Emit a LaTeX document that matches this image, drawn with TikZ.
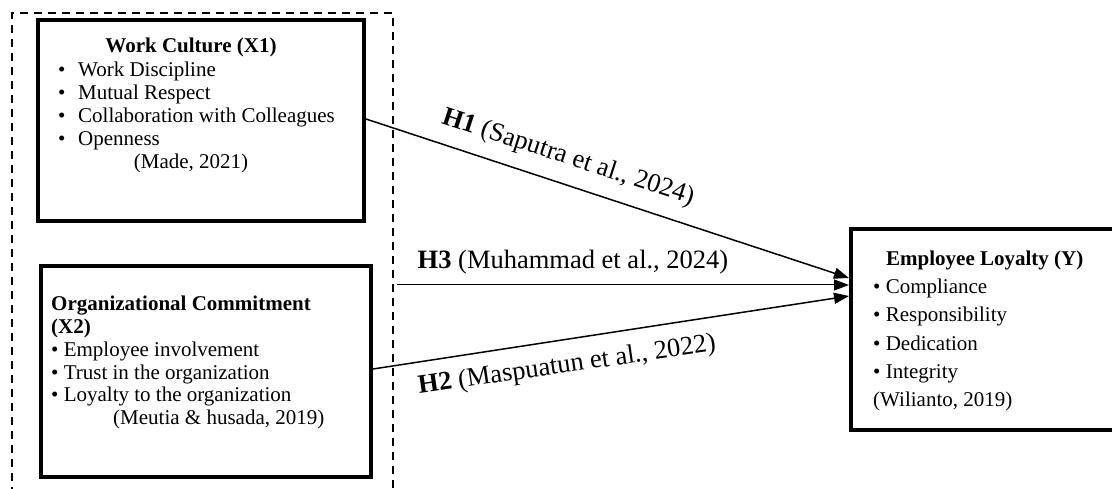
\documentclass[tikz,border=0pt]{standalone}
\usepackage{fontspec}
\setmainfont{Liberation Serif}
\usetikzlibrary{arrows.meta}
\tikzset{
  box/.style={draw, line width=4pt, inner sep=0pt},
  txt/.style={anchor=base west, inner sep=0pt, font=\fontsize{21}{23}\selectfont},
  ctxt/.style={anchor=base, inner sep=0pt, font=\fontsize{21}{23}\selectfont},
  lbl/.style={inner sep=0pt, font=\fontsize{26.5}{30}\selectfont},
  arr/.style={line width=1.5pt, -{Triangle[length=15pt,width=11pt]}},
  dashbox/.style={line width=1.4pt, dash pattern=on 8pt off 6pt}
}
\begin{document}
\begin{tikzpicture}[x=1pt,y=-1pt]
\clip (0,0) rectangle (1112,489);
\fill[white] (0,0) rectangle (1112,489);
% dashed group outline
\draw[dashbox] (12,495) -- (12,13) -- (393,13) -- (393,495);
% boxes
\node[box, minimum width=326pt, minimum height=201pt] (x1) at (201,120.5) {};
\node[box, minimum width=330pt, minimum height=211pt] (x2) at (206,371.5) {};
\node[box, minimum width=279pt, minimum height=201pt] (y) at (990.5,329.5) {};
% box 1 text
\node[ctxt] (t1) at (191,53) {\textbf{Work Culture (X1)}};
\node[txt] (b11) at (58,77) {•};
\node[txt] (i11) at (78,77) {Work Discipline};
\node[txt] (b12) at (58,100) {•};
\node[txt] (i12) at (78,100) {Mutual Respect};
\node[txt] (b13) at (58,123) {•};
\node[txt] (i13) at (78,123) {Collaboration with Colleagues};
\node[txt] (b14) at (58,146) {•};
\node[txt] (i14) at (78,146) {Openness};
\node[ctxt] (r1) at (191,169) {(Made, 2021)};
% box 2 text
\node[txt] (t2) at (51,311) {\textbf{Organizational Commitment}};
\node[txt] (t2b) at (51,334) {\textbf{(X2)}};
\node[txt] (i21) at (51,356) {• Employee involvement};
\node[txt] (i22) at (51,379) {• Trust in the organization};
\node[txt] (i23) at (51,401) {• Loyalty to the organization};
\node[txt] (r2) at (113,424) {(Meutia \& husada, 2019)};
% box Y text
\node[txt] (ty) at (886,266) {\textbf{Employee Loyalty (Y)}};
\node[txt] (iy1) at (873,294) {• Compliance};
\node[txt] (iy2) at (873,322) {• Responsibility};
\node[txt] (iy3) at (873,350) {• Dedication};
\node[txt] (iy4) at (873,378) {• Integrity};
\node[txt] (ry) at (873,406) {(Wilianto, 2019)};
% connectors
\coordinate (h3s) at (397,285);
\draw[arr] (x1.east |- 0,119) -- (y.west |- 0,278);
\draw[arr, line width=1pt] (h3s) -- (y.west |- 0,285);
\draw[arr] (x2.east |- 0,369) -- (y.west |- 0,296);
% labels
\node[lbl, rotate=-18] (l1) at (568,158) {\textbf{H1} (Saputra et al., 2024)};
\node[lbl] (l3) at (573,262) {\textbf{H3} (Muhammad et al., 2024)};
\node[lbl, rotate=8.3] (l2) at (567,366) {\textbf{H2} (Maspuatun et al., 2022)};
\end{tikzpicture}
\end{document}
